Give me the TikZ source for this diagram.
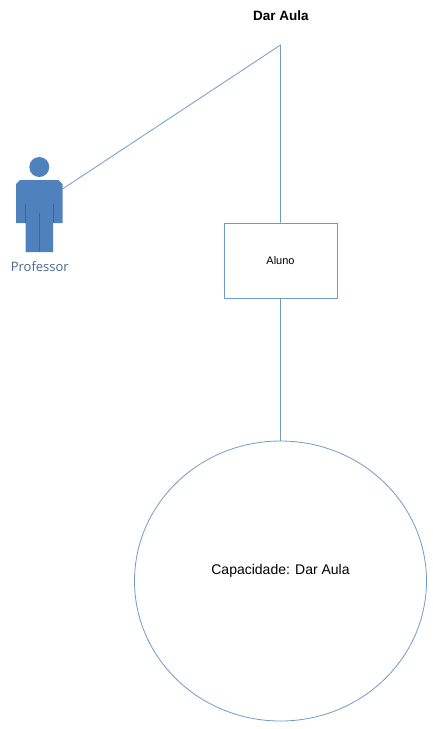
\documentclass[tikz,border=0pt]{standalone}
\usepackage{fontspec}
\setmainfont{Liberation Sans}
\newfontfamily\labelfont{Open Sans}
\usetikzlibrary{positioning}
\usetikzlibrary{shapes.geometric}
\definecolor{linha}{HTML}{6E9CC4}
\definecolor{corpo}{HTML}{4F81BD}
\definecolor{corpoesc}{HTML}{3A6794}
\definecolor{rotulo}{HTML}{44688C}
\begin{document}
\begin{tikzpicture}[x=1pt,y=-1pt,semithick]
	\tikzstyle{every node}=[inner sep=0pt,text=black]
	\tikzstyle{conexao}=[draw=linha,line width=0.8pt]
	\tikzstyle{caixa}=[draw=linha,line width=1pt,minimum width=113pt,minimum height=75pt]
	\tikzstyle{circulo}=[ellipse,draw=linha,line width=0.8pt,minimum width=292pt,minimum height=280pt]
	\useasboundingbox (0,0) rectangle (432,729);
	
	% ator
	\fill[corpo] (39.3,167) circle (10);
	\fill[corpo] (20,180) -- (58.5,180) -- (62.5,184) -- (62.5,223) -- (53,223) -- (53,252) -- (25.5,252) -- (25.5,223) -- (16,223) -- (16,184) -- cycle;
	\draw[corpoesc,line width=0.5pt] (25.5,204) -- (25.5,223) (53,204) -- (53,223) (39.3,213) -- (39.3,252);
	
	\node (titulo) at (281,16) {\fontsize{13.5}{16}\selectfont\bfseries Dar Aula};
	\node (prof) at (39.8,266.5) {\labelfont\fontsize{13}{16}\selectfont\color{rotulo}Professor};
	\node[caixa] (aluno) at (280.5,260.5) {\fontsize{11}{14}\selectfont Aluno};
	\node[circulo] (capac) at (280.5,581) {};
	\node (capactxt) at (280.5,571) {\fontsize{14}{17}\selectfont Capacidade: Dar Aula};
	\coordinate (topo) at (280.5,45);
	\coordinate (braco) at (62.5,189);
	
	\draw[conexao] (braco) -- (topo) -- (aluno.north);
	\draw[conexao] (aluno.south) -- (capac.north);
\end{tikzpicture}
\end{document}
